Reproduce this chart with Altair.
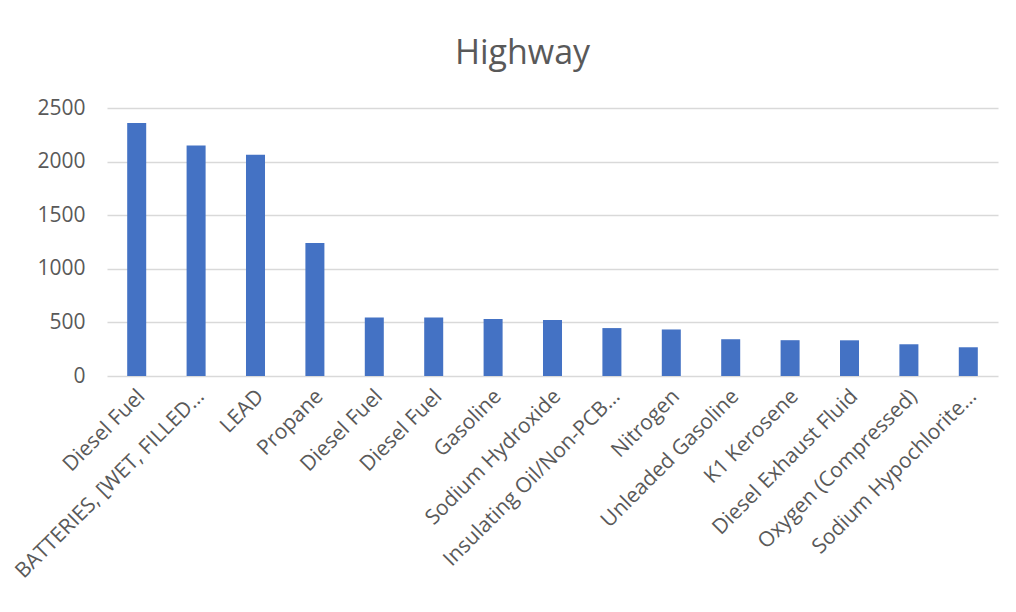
import altair as alt
import pandas as pd

categories = [
    "Diesel Fuel", "BATTERIES, [WET, FILLED…", "LEAD", "Propane", "Diesel Fuel",
    "Diesel Fuel", "Gasoline", "Sodium Hydroxide", "Insulating Oil/Non-PCB…",
    "Nitrogen", "Unleaded Gasoline", "K1 Kerosene", "Diesel Exhaust Fluid",
    "Oxygen (Compressed)", "Sodium Hypochlorite…",
]
values = [2360, 2150, 2065, 1240, 545, 545, 532, 522, 447, 434, 343, 334, 333, 296, 268]
y_ticks = [0, 500, 1000, 1500, 2000, 2500]

df = pd.DataFrame({"idx": list(range(len(categories))), "name": categories, "value": values})

label_js = "[" + ",".join("'" + c.replace("'", "\\'") + "'" for c in categories) + "]"

FONT = "Open Sans"
GRAY = "#595959"

chart = alt.Chart(df).mark_bar(color="#4472C4").encode(
    x=alt.X(
        "idx:O",
        sort=None,
        scale=alt.Scale(paddingInner=0.68, paddingOuter=0.34),
        axis=alt.Axis(
            title=None,
            labelExpr=label_js + "[datum.value]",
            labelAngle=-45,
            labelAlign="right",
            labelBaseline="middle",
            labelFontSize=21,
            labelFont=FONT,
            labelColor=GRAY,
            labelPadding=17,
            labelOffset=5,
            ticks=False,
            domain=False,
            grid=False,
            labelLimit=400,
        ),
    ),
    y=alt.Y(
        "value:Q",
        scale=alt.Scale(domain=[0, 2500], nice=False),
        axis=alt.Axis(
            title=None,
            values=y_ticks,
            format="d",
            labelFontSize=21,
            labelFont=FONT,
            labelColor=GRAY,
            labelPadding=22,
            ticks=False,
            domain=False,
            grid=True,
            gridColor="#d9d9d9",
            gridWidth=1.5,
        ),
    ),
).properties(
    width=891,
    height=268,
    title=alt.TitleParams(
        "Highway", fontSize=34, font=FONT, color=GRAY, fontWeight="normal",
        anchor="middle", dx=-30, offset=26,
    ),
    autosize=alt.AutoSizeParams(type="none"),
    padding={"left": 99, "top": 100, "right": 10, "bottom": 224},
).configure(background="white").configure_view(stroke=None, strokeWidth=0)

chart.save("out.html", embed_options={"renderer": "svg", "actions": False})
